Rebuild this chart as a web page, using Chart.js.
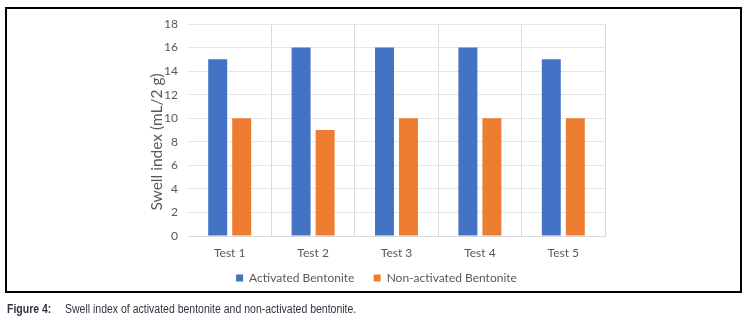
<!DOCTYPE html>
<html>
<head>
<meta charset="utf-8">
<script src="https://cdn.jsdelivr.net/npm/chart.js@4/dist/chart.umd.min.js"></script>
<style>
  html, body { margin: 0; padding: 0; background: #fff; }
  #wrap { position: absolute; left: 0; top: 0; width: 753px; height: 319px; }
  #frame { position: absolute; left: 5px; top: 7px; width: 733px; height: 282px; border: 2px solid #000; pointer-events: none; }
  #cap { position: absolute; left: 7px; top: 302px; font-family: "Liberation Sans", Arial, sans-serif; font-size: 12.5px; color: #2f3542; white-space: nowrap; }
  #cap span { display: inline-block; transform: scaleX(0.84); transform-origin: 0 0; }
  #cap .f { font-weight: bold; width: 58px; }
</style>
</head>
<body>
<div id="wrap">
  <canvas id="c" width="753" height="319"></canvas>
  <div id="frame"></div>
  <div id="cap"><span class="f">Figure 4:</span><span>Swell index of activated bentonite and non-activated bentonite.</span></div>
</div>
<script>
const categories = ["Test 1", "Test 2", "Test 3", "Test 4", "Test 5"];
const activated = [15, 16, 16, 16, 15];
const nonActivated = [10, 9, 10, 10, 10];
const seriesNames = ["Activated Bentonite", "Non-activated Bentonite"];
const yTitle = "Swell index (mL/2 g)";

const font = { family: "Lato, 'Open Sans', sans-serif", size: 12 };
const txt = "#595959";

new Chart(document.getElementById("c"), {
  type: "bar",
  data: {
    labels: categories,
    datasets: [
      { label: seriesNames[0], data: activated, backgroundColor: "#4472C4", categoryPercentage: 0.576, barPercentage: 0.79 },
      { label: seriesNames[1], data: nonActivated, backgroundColor: "#ED7D31", categoryPercentage: 0.576, barPercentage: 0.79 }
    ]
  },
  options: {
    responsive: false,
    animation: false,
    layout: { padding: { left: 148, right: 148, top: 24, bottom: 25 } },
    plugins: {
      tooltip: { enabled: false },
      legend: {
        position: "bottom",
        labels: {
          boxWidth: 7, boxHeight: 7, padding: 10, color: txt, font: font,
          generateLabels: (chart) => {
            const items = Chart.defaults.plugins.legend.labels.generateLabels(chart);
            if (items.length) items[0].text = items[0].text + "   ";
            return items;
          }
        }
      }
    },
    scales: {
      x: {
        grid: {
          offset: true,
          drawTicks: false,
          color: (ctx) => ctx.index === 0 ? "rgba(0,0,0,0)" : "#d9d9d9"
        },
        border: { color: "#d9d9d9" },
        ticks: { color: txt, font: font, padding: 10 },
        afterFit: (s) => { s.height = 26; }
      },
      y: {
        min: 0, max: 18,
        ticks: { stepSize: 2, color: txt, font: font, padding: 10 },
        grid: { drawTicks: false, color: "#e6e6e6" },
        border: { display: false },
        title: { display: true, text: yTitle + "      ", color: txt, font: { family: font.family, size: 15.5 }, padding: 0 },
        afterFit: (s) => { s.width = 40; }
      }
    }
  }
});
</script>
</body>
</html>
